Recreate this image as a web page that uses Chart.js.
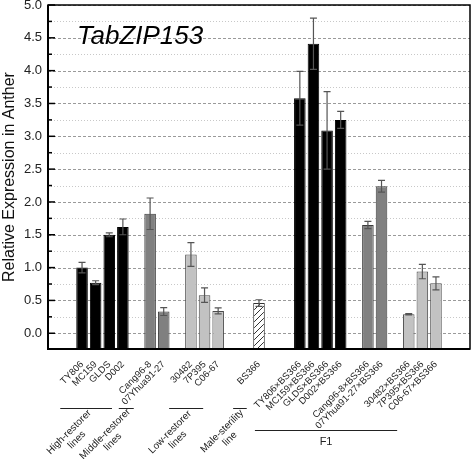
<!DOCTYPE html>
<html>
<head>
<meta charset="utf-8">
<script src="https://cdn.jsdelivr.net/npm/chart.js@4/dist/chart.umd.min.js"></script>
<style>
  body { margin: 0; background: #fff; }
  canvas { display: block; }
</style>
</head>
<body>
<canvas id="chart" width="472" height="459"></canvas>
<script>
// categories in plot order, '' = gap between groups
const categories = ['TY806', 'MC159', 'GLDS', 'D002', '', 'Cang96-8', '07Yhua91-27', '',
  '30482', '7P395', 'C06-67', '', '', 'BS366', '', '',
  'TY806×BS366', 'MC159×BS366', 'GLDS×BS366', 'D002×BS366', '',
  'Cang96-8×BS366', '07Yhua91-27×BS366', '', '30482×BS366', '7P395×BS366', 'C06-67×BS366'];
const expression = [1.00, 0.77, 1.50, 1.62, null, 1.82, 0.33, null,
  1.20, 0.58, 0.34, null, null, 0.46, null, null,
  3.58, 4.41, 3.09, 3.25, null, 1.65, 2.24, null, 0.29, 0.94, 0.76];
const stdErr = [0.08, 0.03, 0.03, 0.12, null, 0.24, 0.06, null,
  0.18, 0.11, 0.045, null, null, 0.05, null, null,
  0.41, 0.39, 0.59, 0.13, null, 0.055, 0.09, null, 0.01, 0.11, 0.10];
// parent type of each line (high / middle / low restorer, sterile)
const lineType = ['high', 'high', 'high', 'high', null, 'middle', 'middle', null,
  'low', 'low', 'low', null, null, 'sterile', null, null,
  'high', 'high', 'high', 'high', null, 'middle', 'middle', null, 'low', 'low', 'low'];
const yTicks = [0, 0.5, 1, 1.5, 2, 2.5, 3, 3.5, 4, 4.5, 5];

const FONT = '"Liberation Sans", Arial, sans-serif';
const PAD = 2; // empty slots at each end of the x axis

function hatch() {
  const c = document.createElement('canvas');
  c.width = 6; c.height = 6;
  const g = c.getContext('2d');
  g.fillStyle = '#fff';
  g.fillRect(0, 0, 6, 6);
  g.strokeStyle = '#333';
  g.lineWidth = 1;
  g.beginPath();
  g.moveTo(-1, 7); g.lineTo(7, -1);
  g.moveTo(-4, 4); g.lineTo(4, -4);
  g.moveTo(2, 10); g.lineTo(10, 2);
  g.stroke();
  return document.getElementById('chart').getContext('2d').createPattern(c, 'repeat');
}

const fills = { high: '#000000', middle: '#808080', low: '#c2c2c2', sterile: hatch() };
const borders = { high: '#000000', middle: '#3a3a3a', low: '#4a4a4a', sterile: '#333333' };

const blank = Array(PAD).fill('');
const blankV = Array(PAD).fill(null);
const labels = blank.concat(categories, blank);
const values = blankV.concat(expression, blankV);
const errs = blankV.concat(stdErr, blankV);
const types = blankV.concat(lineType, blankV);

const groups = [
  { text: ['High-restorer', 'lines'], from: -1.6, to: 2.2, cx: 73, cy: 436 },
  { text: ['Middle-restorer', 'lines'], from: 2.7, to: 3.8, cx: 109, cy: 438 },
  { text: ['Low-restorer', 'lines'], from: 6.4, to: 8.9, cx: 174, cy: 436 },
  { text: ['Male-sterility', 'line'], from: 11.1, to: 12.1, cx: 226, cy: 435 }
];

const decor = {
  id: 'decor',
  beforeDatasetsDraw(chart) {
    const { ctx, chartArea: a, scales: { y } } = chart;
    ctx.save();
    for (let v = 0; v <= 5.001; v += 0.25) {
      const py = Math.round(y.getPixelForValue(v)) + 0.5;
      const major = Math.abs(v * 2 - Math.round(v * 2)) < 1e-6;
      ctx.strokeStyle = major ? '#9a9a9a' : '#c8c8c8';
      ctx.setLineDash(major ? [3, 2] : [1, 2]);
      ctx.lineWidth = 1;
      ctx.beginPath();
      ctx.moveTo(a.left, py);
      ctx.lineTo(a.right, py);
      ctx.stroke();
    }
    ctx.restore();
  },
  afterDatasetsDraw(chart) {
    const { ctx, scales: { y } } = chart;
    const meta = chart.getDatasetMeta(0);
    ctx.save();
    ctx.strokeStyle = '#555';
    ctx.lineWidth = 1.2;
    meta.data.forEach((bar, i) => {
      if (values[i] == null || errs[i] == null) return;
      const x = bar.x;
      const top = y.getPixelForValue(values[i] + errs[i]);
      const bot = y.getPixelForValue(values[i] - errs[i]);
      ctx.beginPath();
      ctx.moveTo(x, top); ctx.lineTo(x, bot);
      ctx.moveTo(x - 3.5, top); ctx.lineTo(x + 3.5, top);
      ctx.moveTo(x - 3.5, bot); ctx.lineTo(x + 3.5, bot);
      ctx.stroke();
    });
    ctx.restore();
  },
  afterDraw(chart) {
    const { ctx, chartArea: a, scales: { x, y } } = chart;
    ctx.save();
    // frame
    ctx.strokeStyle = '#000';
    ctx.lineWidth = 1.5;
    ctx.strokeRect(a.left, a.top, a.right - a.left, a.bottom - a.top);
    ctx.lineWidth = 2;
    ctx.beginPath();
    ctx.moveTo(a.left, a.top); ctx.lineTo(a.left, a.bottom); ctx.lineTo(a.right, a.bottom);
    ctx.stroke();
    // inner ticks on the y axis
    ctx.lineWidth = 1.5;
    for (let v = 0; v <= 5.001; v += 0.25) {
      const py = y.getPixelForValue(v);
      const major = Math.abs(v * 2 - Math.round(v * 2)) < 1e-6;
      ctx.beginPath();
      ctx.moveTo(a.left, py);
      ctx.lineTo(a.left + (major ? 7 : 4), py);
      ctx.stroke();
    }
    // group annotations
    ctx.fillStyle = '#222';
    ctx.strokeStyle = '#222';
    ctx.lineWidth = 1;
    ctx.font = '10px ' + FONT;
    ctx.textAlign = 'center';
    ctx.textBaseline = 'middle';
    groups.forEach(g => {
      const x0 = x.getPixelForValue(g.from + PAD);
      const x1 = x.getPixelForValue(g.to + PAD);
      ctx.beginPath();
      ctx.moveTo(x0, 408.5); ctx.lineTo(x1, 408.5);
      ctx.stroke();
      ctx.save();
      ctx.translate(g.cx, g.cy);
      ctx.rotate(-Math.PI / 4);
      ctx.fillText(g.text[0], 0, -5.5);
      ctx.fillText(g.text[1], 0, 5.5);
      ctx.restore();
    });
    const f0 = x.getPixelForValue(12.7 + PAD);
    const f1 = x.getPixelForValue(23.15 + PAD);
    ctx.beginPath();
    ctx.moveTo(f0, 430.5); ctx.lineTo(f1, 430.5);
    ctx.stroke();
    ctx.font = '11px ' + FONT;
    ctx.fillText('F1', (f0 + f1) / 2, 442);
    // panel title
    ctx.font = 'italic 26px ' + FONT;
    ctx.textAlign = 'left';
    ctx.textBaseline = 'alphabetic';
    ctx.fillStyle = '#000';
    ctx.fillText('TabZIP153', 77, 44);
    ctx.restore();
  }
};

new Chart(document.getElementById('chart'), {
  type: 'bar',
  data: {
    labels: labels,
    datasets: [{
      data: values,
      base: -0.24,
      backgroundColor: types.map(t => t ? fills[t] : 'transparent'),
      borderColor: types.map(t => t ? borders[t] : 'transparent'),
      borderWidth: 1,
      barPercentage: 0.85,
      categoryPercentage: 1.0
    }]
  },
  options: {
    responsive: false,
    animation: false,
    layout: { padding: { top: 5, right: 2, left: 0, bottom: 0 } },
    plugins: { legend: { display: false }, tooltip: { enabled: false } },
    scales: {
      x: {
        grid: { display: false, drawTicks: false },
        border: { display: false },
        ticks: {
          autoSkip: false,
          minRotation: 45,
          maxRotation: 45,
          padding: 10,
          color: '#222',
          font: { family: FONT, size: 9.5 }
        },
        afterFit(s) {
          s.height = 110;
          s.paddingLeft = 0; s.paddingRight = 0;
        }
      },
      y: {
        min: -0.24,
        max: 5,
        grid: { display: false, drawTicks: false },
        border: { display: false },
        afterBuildTicks(s) { s.ticks = yTicks.map(v => ({ value: v })); },
        ticks: {
          padding: 6,
          color: '#222',
          font: { family: FONT, size: 13 },
          callback: v => v.toFixed(1)
        },
        title: {
          display: true,
          text: 'Relative Expression in Anther',
          color: '#111',
          font: { family: FONT, size: 16 },
          padding: { top: 0, bottom: 2 }
        },
        afterFit(s) {
          s.width = 48;
          s.paddingTop = 0; s.paddingBottom = 0;
        }
      }
    }
  },
  plugins: [decor]
});
</script>
</body>
</html>
